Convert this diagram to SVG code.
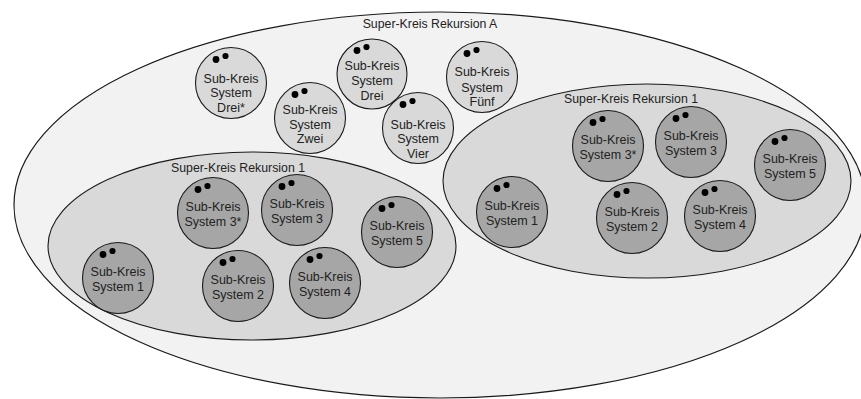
<svg xmlns="http://www.w3.org/2000/svg" width="861" height="399" viewBox="0 0 861 399">
  <style>
    .outer { fill: #f2f2f2; stroke: #1a1a1a; stroke-width: 1.2; }
    .group { fill: #d9d9d9; stroke: #1a1a1a; stroke-width: 1.1; }
    .light { fill: #d9d9d9; stroke: #1a1a1a; stroke-width: 1.1; }
    .dark { fill: #a6a6a6; stroke: #1a1a1a; stroke-width: 1.1; }
    .dot { fill: #000; }
    text { font-family: "Liberation Sans", Arial, sans-serif; font-size: 12.5px; fill: #222; text-anchor: middle; }
    .title { font-size: 12.3px; }
  </style>
  <defs>
    <!-- pair of marker dots placed near the top-left of every sub circle -->
    <g id="dots">
      <circle class="dot" cx="-15" cy="-23.5" r="3.4"/>
      <circle class="dot" cx="-5.5" cy="-27" r="3.1"/>
    </g>
  </defs>

  <!-- outermost super circle -->
  <g id="super-a">
    <ellipse class="outer" cx="440" cy="205" rx="426" ry="193"/>
    <text class="title" x="430" y="28">Super-Kreis Rekursion A</text>
  </g>

  <!-- loose sub circles of the outer level -->
  <g id="sub-drei-star" transform="translate(231,83)">
    <circle class="light" r="35.5"/>
    <use href="#dots"/>
    <text y="-0.5">Sub-Kreis</text>
    <text y="14">System</text>
    <text y="28.5">Drei*</text>
  </g>
  <g id="sub-zwei" transform="translate(310,118)">
    <circle class="light" r="35.5"/>
    <use href="#dots"/>
    <text y="-4">Sub-Kreis</text>
    <text y="10.5">System</text>
    <text y="25">Zwei</text>
  </g>
  <g id="sub-drei" transform="translate(372,74)">
    <circle class="light" r="35"/>
    <use href="#dots"/>
    <text y="-4.5">Sub-Kreis</text>
    <text y="11">System</text>
    <text y="25.5">Drei</text>
  </g>
  <g id="sub-vier" transform="translate(418,128)">
    <circle class="light" r="35.5"/>
    <use href="#dots"/>
    <text y="0.5">Sub-Kreis</text>
    <text y="15">System</text>
    <text y="29.5">Vier</text>
  </g>
  <g id="sub-fuenf" transform="translate(482,77)">
    <circle class="light" r="35.5"/>
    <use href="#dots"/>
    <text y="-1">Sub-Kreis</text>
    <text y="14.5">System</text>
    <text y="29">Fünf</text>
  </g>

  <!-- left recursion level -->
  <g id="super-1-left">
    <ellipse class="group" cx="252" cy="246" rx="204" ry="94"/>
    <text class="title" x="238" y="172">Super-Kreis Rekursion 1</text>
  </g>
  <g id="l-sys1" transform="translate(118,278)">
    <circle class="dark" r="35.5"/><use href="#dots"/>
    <text y="-2">Sub-Kreis</text><text y="12.5">System 1</text>
  </g>
  <g id="l-sys3star" transform="translate(213,213)">
    <circle class="dark" r="35.5"/><use href="#dots"/>
    <text y="-2">Sub-Kreis</text><text y="12.5">System 3*</text>
  </g>
  <g id="l-sys3" transform="translate(297,210)">
    <circle class="dark" r="35.5"/><use href="#dots"/>
    <text y="-2">Sub-Kreis</text><text y="12.5">System 3</text>
  </g>
  <g id="l-sys2" transform="translate(238,286)">
    <circle class="dark" r="35.5"/><use href="#dots"/>
    <text y="-2">Sub-Kreis</text><text y="12.5">System 2</text>
  </g>
  <g id="l-sys4" transform="translate(325,283)">
    <circle class="dark" r="35.5"/><use href="#dots"/>
    <text y="-2">Sub-Kreis</text><text y="12.5">System 4</text>
  </g>
  <g id="l-sys5" transform="translate(397,232)">
    <circle class="dark" r="35.5"/><use href="#dots"/>
    <text y="-2">Sub-Kreis</text><text y="12.5">System 5</text>
  </g>

  <!-- right recursion level -->
  <g id="super-1-right">
    <ellipse class="group" cx="647" cy="181" rx="204" ry="97"/>
    <text class="title" x="631" y="103">Super-Kreis Rekursion 1</text>
  </g>
  <g id="r-sys1" transform="translate(512,212)">
    <circle class="dark" r="35.5"/><use href="#dots"/>
    <text y="-2">Sub-Kreis</text><text y="12.5">System 1</text>
  </g>
  <g id="r-sys3star" transform="translate(608,146)">
    <circle class="dark" r="35.5"/><use href="#dots"/>
    <text y="-2">Sub-Kreis</text><text y="12.5">System 3*</text>
  </g>
  <g id="r-sys3" transform="translate(691,142)">
    <circle class="dark" r="35.5"/><use href="#dots"/>
    <text y="-2">Sub-Kreis</text><text y="12.5">System 3</text>
  </g>
  <g id="r-sys2" transform="translate(632,218)">
    <circle class="dark" r="35.5"/><use href="#dots"/>
    <text y="-2">Sub-Kreis</text><text y="12.5">System 2</text>
  </g>
  <g id="r-sys4" transform="translate(720,216)">
    <circle class="dark" r="35.5"/><use href="#dots"/>
    <text y="-2">Sub-Kreis</text><text y="12.5">System 4</text>
  </g>
  <g id="r-sys5" transform="translate(790,165)">
    <circle class="dark" r="35.5"/><use href="#dots"/>
    <text y="-2">Sub-Kreis</text><text y="12.5">System 5</text>
  </g>

  <!-- the figure has no connectors -->
  <g id="connectors"/>
</svg>
